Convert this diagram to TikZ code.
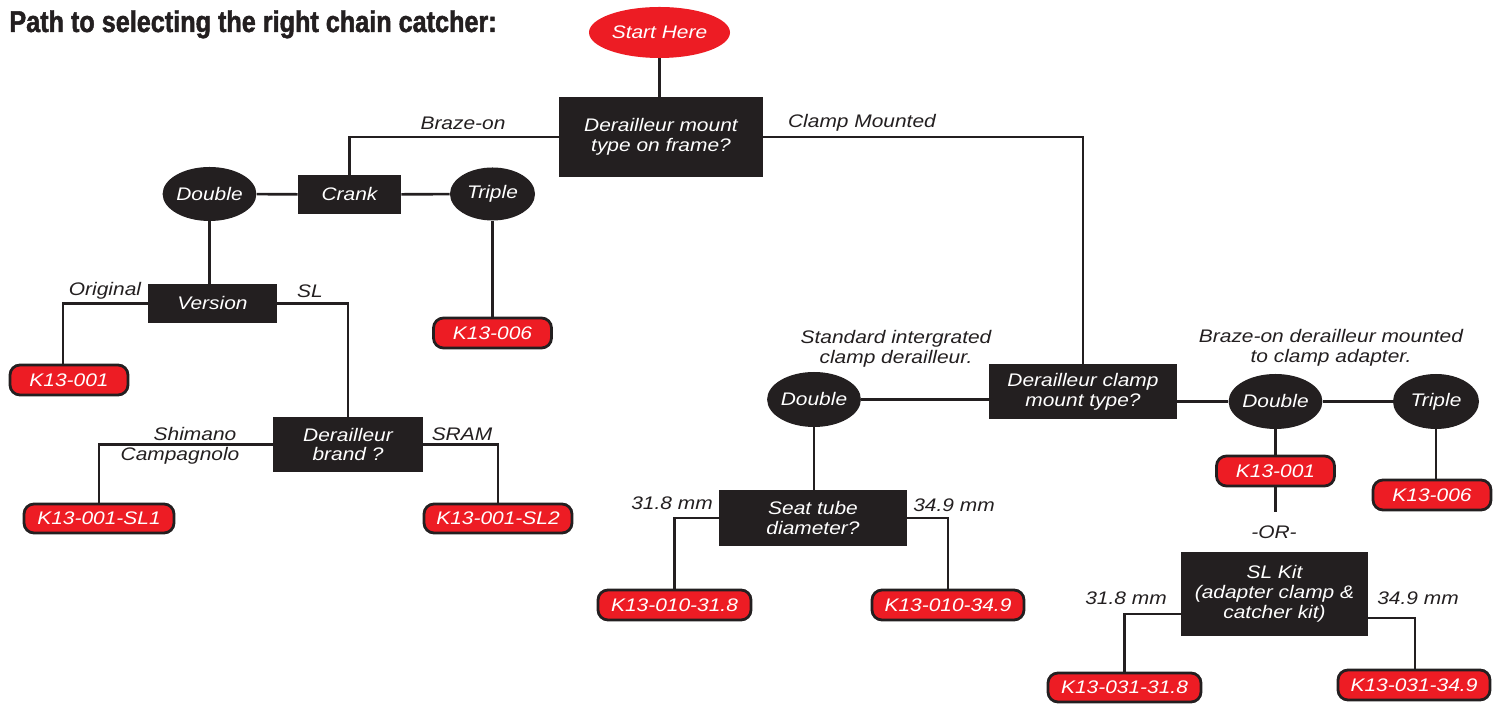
\documentclass[tikz,border=0pt]{standalone}
\usepackage{fontspec}
\usetikzlibrary{shapes.geometric,calc,backgrounds}
\newfontfamily\lblfamily[FakeStretch=1.15]{Liberation Sans}
\newfontfamily\ttlfamily[FakeStretch=0.84,FakeBold=1.6]{Liberation Sans}
\newcommand\lblfnt{\lblfamily\itshape\fontsize{9.1}{9.9}\selectfont}
\newcommand\ttlfnt{\ttlfamily\bfseries\fontsize{15}{16}\selectfont}
\definecolor{dk}{HTML}{231F20}
\definecolor{cred}{HTML}{ED1C24}
\tikzset{
  qbox/.style={rectangle, fill=dk, text=white, inner sep=0pt, align=center, font=\lblfnt},
  obox/.style={ellipse, fill=dk, text=white, inner sep=0pt, font=\lblfnt},
  rbox/.style={rectangle, rounded corners=5pt, fill=cred, draw=dk, line width=1.4pt, text=white, inner sep=0pt, font=\lblfnt},
  conn/.style={draw=dk, line width=1.3pt},
  lbl/.style={text=dk, inner sep=0pt, align=center, font=\lblfnt},
}
\begin{document}
\begin{tikzpicture}[x=0.5pt,y=-0.5pt]
\path[use as bounding box] (0,0) rectangle (1501,704);
\node[anchor=base west, inner sep=0pt, text=dk, font=\ttlfnt] (title) at (9,32) {Path to selecting the right chain catcher:};
% nodes
\node[ellipse, fill=cred, text=white, inner sep=0pt, font=\lblfnt, minimum width=70.5pt, minimum height=25.5pt] (start) at (659.5,32.5) {Start Here};
\node[qbox, minimum width=102pt, minimum height=40pt] (q1) at (661,137) {Derailleur mount\\type on frame?};
\node[qbox, minimum width=51.5pt, minimum height=19.5pt] (crank) at (349.5,194.5) {Crank};
\node[obox, minimum width=43.5pt, minimum height=27pt] (dbl1) at (209.5,194) {Double};
\node[obox, minimum width=42.5pt, minimum height=26.5pt] (tpl1) at (492.5,194) {Triple};
\node[rbox, minimum width=59pt, minimum height=15pt] (k006a) at (492.5,333) {K13-006};
\node[qbox, minimum width=64.5pt, minimum height=19.5pt] (version) at (212.5,303.5) {Version};
\node[rbox, minimum width=59pt, minimum height=15pt] (k001a) at (69,380) {K13-001};
\node[qbox, minimum width=75pt, minimum height=27.5pt] (brand) at (348,444.5) {Derailleur\\brand ?};
\node[rbox, minimum width=75pt, minimum height=14.5pt] (sl1) at (99,518.5) {K13-001-SL1};
\node[rbox, minimum width=74pt, minimum height=14.5pt] (sl2) at (498,518.5) {K13-001-SL2};
\node[obox, minimum width=43pt, minimum height=27.5pt] (dbl2) at (814,399.5) {Double};
\node[qbox, minimum width=94pt, minimum height=27.5pt] (clamp) at (1083,391.5) {Derailleur clamp\\mount type?};
\node[qbox, minimum width=94pt, minimum height=28pt] (seat) at (813,518) {Seat tube\\diameter?};
\node[rbox, minimum width=76.5pt, minimum height=15pt] (k010a) at (674.5,605) {K13-010-31.8};
\node[rbox, minimum width=76pt, minimum height=15pt] (k010b) at (948,605) {K13-010-34.9};
\node[obox, minimum width=42.5pt, minimum height=27.5pt] (dbl3) at (1275.5,401.5) {Double};
\node[obox, minimum width=43pt, minimum height=27.5pt] (tpl3) at (1436,401.5) {Triple};
\node[rbox, minimum width=59pt, minimum height=15pt] (k001b) at (1275.5,471) {K13-001};
\node[rbox, minimum width=59pt, minimum height=15pt] (k006b) at (1432,495) {K13-006};
\node[qbox, minimum width=93.5pt, minimum height=42pt] (slkit) at (1274.5,594) {SL Kit\\(adapter clamp \&\\catcher kit)};
\node[rbox, minimum width=76.5pt, minimum height=14.5pt] (k031a) at (1124.5,687.5) {K13-031-31.8};
\node[rbox, minimum width=76pt, minimum height=15pt] (k031b) at (1414,685) {K13-031-34.9};
\coordinate (orend) at (1275.5,512);
% labels
\node[lbl] (lbraze) at (463,123) {Braze-on};
\node[lbl] (lclampm) at (862,123) {Clamp Mounted};
\node[lbl] (lorig) at (105,291) {Original};
\node[lbl] (lsl) at (310,291) {SL};
\node[lbl] (lshim) at (195,434) {Shimano};
\node[lbl] (lcamp) at (180,456) {Campagnolo};
\node[lbl] (lsram) at (462,434) {SRAM};
\node[lbl] (lstd) at (896,349) {Standard intergrated\\clamp derailleur.};
\node[lbl] (lbrazeadp) at (1331,348) {Braze-on derailleur mounted\\to clamp adapter.};
\node[lbl] (lsa) at (672,503) {31.8 mm};
\node[lbl] (lsb) at (954,505) {34.9 mm};
\node[lbl] (lka) at (1126,598) {31.8 mm};
\node[lbl] (lkb) at (1418,598) {34.9 mm};
\node[lbl] (lor) at (1274,532) {-OR-};
% connectors
\begin{scope}[on background layer]
\draw[conn] (start.south) -- (start.south |- q1.north);
\draw[conn] (q1.west) -| (crank.north);
\draw[conn] (q1.east) -| (clamp.north);
\draw[conn] (dbl1) -- (crank);
\draw[conn] (crank) -- (tpl1);
\draw[conn] (tpl1) -- (k006a);
\draw[conn] (dbl1.south) -- (dbl1.south |- version.north);
\draw[conn] (version.west) -| ([xshift=-3pt]k001a.north);
\draw[conn] (version.east) -| (brand.north);
\draw[conn] (brand.west) -| (sl1.north);
\draw[conn] (brand.east) -| (sl2.north);
\draw[conn] (dbl2.east) -- (dbl2.east -| clamp.west);
\draw[conn] (dbl2.south) -- (dbl2.south |- seat.north);
\draw[conn] (seat.west) -| (k010a.north);
\draw[conn] (seat.east) -| (k010b.north);
\draw[conn] (dbl3.west -| clamp.east) -- (dbl3.west);
\draw[conn] (dbl3) -- (tpl3);
\draw[conn] (dbl3) -- (k001b);
\draw[conn] (tpl3.south) -- (tpl3.south |- k006b.north);
\draw[conn] (k001b.south) -- (orend);
\draw[conn] ($(slkit.west)+(0,20)$) -| (k031a.north);
\draw[conn] ($(slkit.east)+(0,24)$) -| ([xshift=0.5pt]k031b.north);
\end{scope}
\end{tikzpicture}
\end{document}
